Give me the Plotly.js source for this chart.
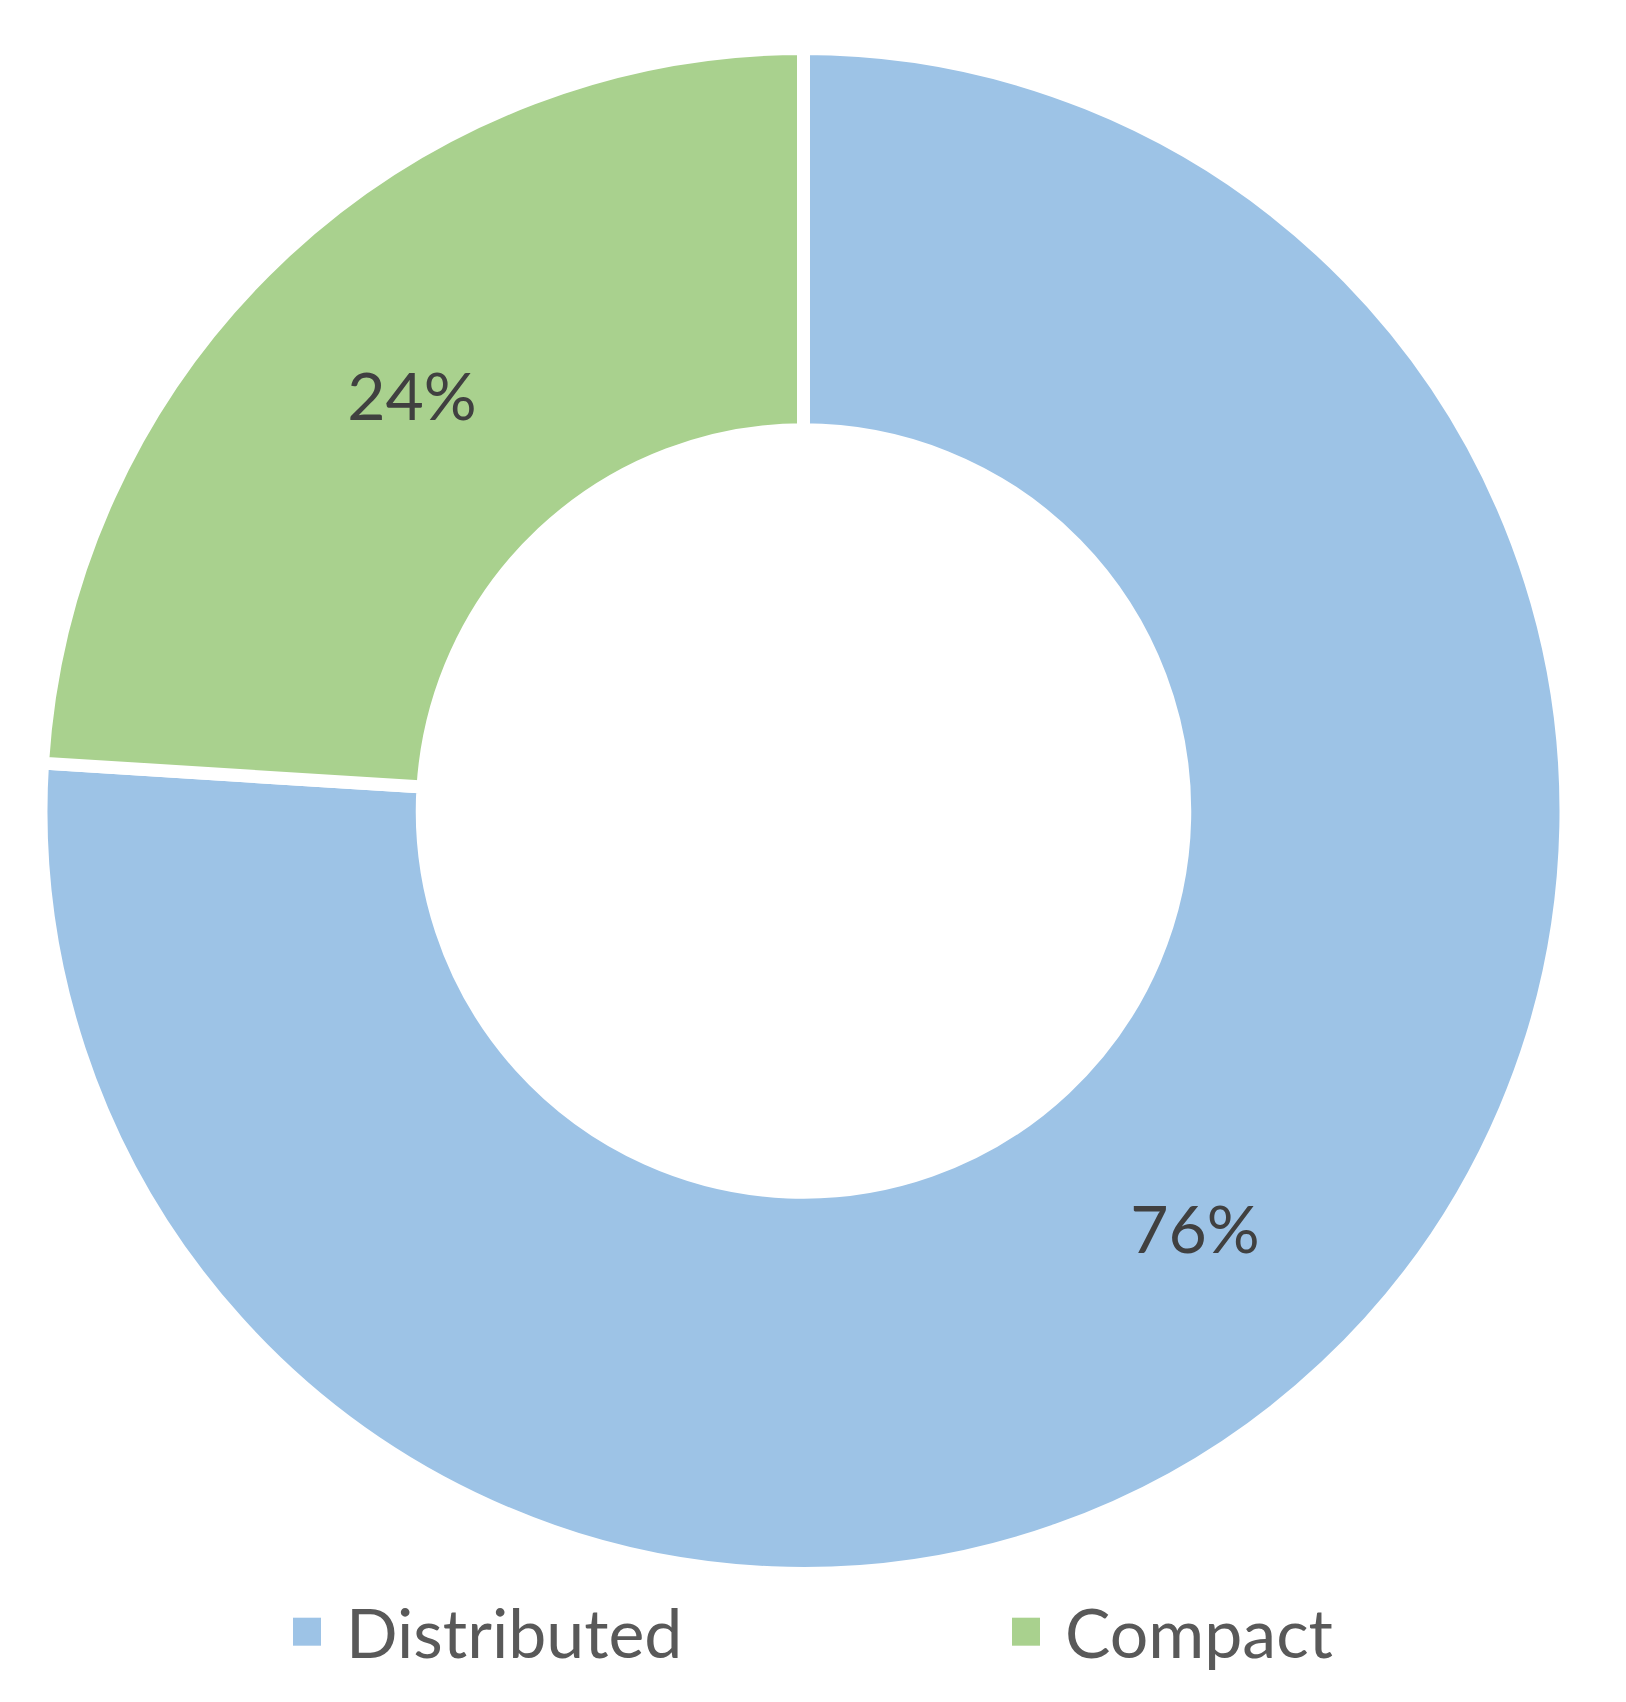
<!DOCTYPE html>
<html>
<head>
<meta charset="utf-8">
<script src="https://cdn.plot.ly/plotly-3.0.1.min.js"></script>
<style>
  html, body { margin: 0; padding: 0; background: #ffffff; }
  #chart { width: 1626px; height: 1702px; }
</style>
</head>
<body>
<div id="chart"></div>
<script>
const categories = ["Distributed", "Compact"];
const shares = [76, 24];
const sliceColors = ["#9DC3E6", "#A9D18E"];

const trace = {
  type: "pie",
  labels: categories,
  values: shares,
  sort: false,
  direction: "clockwise",
  rotation: 0,
  hole: 0.5,
  domain: { x: [0.025215, 0.963100], y: [0.075500, 0.971504] },
  marker: { colors: sliceColors, line: { color: "#ffffff", width: 13 } },
  textinfo: "percent",
  textposition: "inside",
  insidetextorientation: "horizontal",
  textfont: { family: "Lato, 'Open Sans', sans-serif", size: 66, color: "#404040" },
  hoverinfo: "label+percent"
};

const layout = {
  width: 1626,
  height: 1702,
  margin: { l: 0, r: 0, t: 0, b: 0 },
  paper_bgcolor: "#ffffff",
  showlegend: true,
  legend: {
    orientation: "h",
    x: 0,
    xanchor: "left",
    y: 1 - 1632 / 1702,
    yanchor: "middle",
    itemwidth: 44,
    entrywidth: 660,
    entrywidthmode: "pixels",
    borderwidth: 0,
    font: { family: "Lato, 'Open Sans', sans-serif", size: 68, color: "#595959" },
    bgcolor: "rgba(0,0,0,0)",
    traceorder: "normal"
  }
};

const LEGEND_LEFT = 292;

function tidyLegend() {
  document.querySelectorAll("g.legend").forEach(function (g) {
    const t = g.getAttribute("transform") || "";
    const m = t.match(/translate\(\s*([-\d.e]+)[ ,]+([-\d.e]+)\s*\)/);
    const ly = m ? m[2] : "0";
    g.setAttribute("transform", "translate(" + LEGEND_LEFT + "," + ly + ")");
  });
  document.querySelectorAll("path.legendpie").forEach(function (p) {
    p.setAttribute("transform", "translate(15,0) scale(2.333)");
    p.style.strokeWidth = "0px";
  });
}

const gd = document.getElementById("chart");
Plotly.newPlot(gd, [trace], layout, { displayModeBar: false, staticPlot: true }).then(function () {
  tidyLegend();
  gd.on("plotly_afterplot", tidyLegend);
});
tidyLegend();
</script>
</body>
</html>
